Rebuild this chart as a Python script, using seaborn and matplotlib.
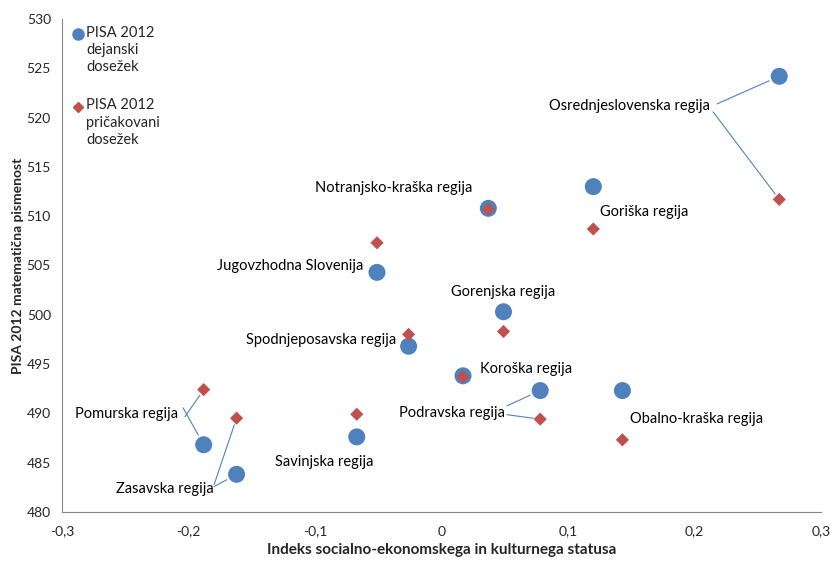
import pandas as pd
import matplotlib.pyplot as plt
import seaborn as sns

# Regions of Slovenia: ESCS index, actual and expected PISA 2012 maths score
regions = ["Osrednjeslovenska regija", "Goriška regija", "Notranjsko-kraška regija",
           "Jugovzhodna Slovenija", "Gorenjska regija", "Spodnjeposavska regija",
           "Koroška regija", "Podravska regija", "Obalno-kraška regija",
           "Savinjska regija", "Pomurska regija", "Zasavska regija"]
escs = [0.267, 0.120, 0.037, -0.051, 0.049, -0.026, 0.017, 0.078, 0.143, -0.067, -0.188, -0.162]
actual = [524.2, 513.0, 510.8, 504.3, 500.3, 496.8, 493.8, 492.3, 492.3, 487.6, 486.8, 483.8]
expected = [511.7, 508.7, 510.7, 507.3, 498.3, 498.0, 493.7, 489.4, 487.3, 489.9, 492.4, 489.5]

x_ticks = [-0.3, -0.2, -0.1, 0, 0.1, 0.2, 0.3]
y_ticks = [480, 485, 490, 495, 500, 505, 510, 515, 520, 525, 530]

blue = "#4F81BD"
red = "#C0504D"

df = pd.DataFrame({"region": regions * 2,
                   "escs": escs * 2,
                   "score": actual + expected,
                   "kind": ["dejanski"] * len(regions) + ["pricakovani"] * len(regions)})

sns.set_style("white")
plt.rcParams["font.family"] = ["Lato", "DejaVu Sans"]

fig, ax = plt.subplots(figsize=(8.31, 5.63), dpi=100)
fig.subplots_adjust(left=0.0746, right=0.988, top=0.966, bottom=0.091)

sns.scatterplot(data=df[df.kind == "dejanski"], x="escs", y="score", ax=ax,
                color=blue, marker="o", s=150, edgecolor="none", legend=False, zorder=3)
sns.scatterplot(data=df[df.kind == "pricakovani"], x="escs", y="score", ax=ax,
                color=red, marker="D", s=45, edgecolor="none", legend=False, zorder=4)

ax.set_xlim(-0.3, 0.3)
ax.set_ylim(480, 530)
ax.set_xticks(x_ticks)
ax.set_yticks(y_ticks)
ax.set_xticklabels([("%g" % t).replace(".", ",") for t in x_ticks])
ax.set_yticklabels([str(t) for t in y_ticks])
ax.tick_params(axis="both", length=4, width=0.8, color="#868686", labelsize=10, direction="out")
ax.tick_params(axis="x", pad=6)
ax.tick_params(axis="y", pad=4)
sns.despine(ax=ax, top=True, right=True)
for side in ["left", "bottom"]:
    ax.spines[side].set_color("#868686")
    ax.spines[side].set_linewidth(0.8)

ax.set_xlabel("Indeks socialno-ekonomskega in kulturnega statusa", fontsize=11,
              fontweight="bold", labelpad=4)
ax.set_ylabel("PISA 2012 matematična pismenost", fontsize=10, fontweight="bold", labelpad=2)

# region labels (data coords, alignment)
label_pos = {
    "Osrednjeslovenska regija": (0.2125, 521.2, "right"),
    "Goriška regija": (0.1255, 510.4, "left"),
    "Notranjsko-kraška regija": (-0.1000, 512.9, "left"),
    "Jugovzhodna Slovenija": (-0.1775, 504.95, "left"),
    "Gorenjska regija": (0.0075, 502.3, "left"),
    "Spodnjeposavska regija": (-0.1545, 497.45, "left"),
    "Koroška regija": (0.0304, 494.5, "left"),
    "Podravska regija": (-0.0336, 490.0, "left"),
    "Obalno-kraška regija": (0.1490, 489.4, "left"),
    "Savinjska regija": (-0.1316, 485.1, "left"),
    "Pomurska regija": (-0.2897, 489.95, "left"),
    "Zasavska regija": (-0.2573, 482.3, "left"),
}
for name, (lx, ly, ha) in label_pos.items():
    ax.text(lx, ly, name, ha=ha, va="center", fontsize=10.5, color="black")

# leader lines: region -> start points for (actual, expected)
leaders = {
    "Osrednjeslovenska regija": [(0.2178, 521.4), (0.2146, 520.6)],
    "Podravska regija": [(0.0518, 490.75), (0.0518, 489.85)],
    "Pomurska regija": [(-0.2043, 490.55), (-0.2028, 489.65)],
    "Zasavska regija": [(-0.1798, 482.55), (-0.1798, 482.75)],
}
for name, starts in leaders.items():
    i = regions.index(name)
    for (sx, sy), ty, shrink in zip(starts, [actual[i], expected[i]], [8, 5]):
        ax.annotate("", xy=(escs[i], ty), xytext=(sx, sy),
                    arrowprops=dict(arrowstyle="-", color=blue, lw=0.8,
                                    shrinkA=0, shrinkB=shrink))

# legend in the upper-left corner
ax.plot([0.021], [0.970], transform=ax.transAxes, marker="o", ms=8, color=blue,
        clip_on=False, zorder=5)
ax.text(0.0316, 0.987, "PISA 2012\ndejanski\ndosežek", transform=ax.transAxes,
        ha="left", va="top", fontsize=10.5, linespacing=1.3)
ax.plot([0.021], [0.8215], transform=ax.transAxes, marker="D", ms=5, color=red,
        clip_on=False, zorder=5)
ax.text(0.0316, 0.839, "PISA 2012\npričakovani\ndosežek", transform=ax.transAxes,
        ha="left", va="top", fontsize=10.5, linespacing=1.3)

plt.savefig("out.png", dpi=100)
